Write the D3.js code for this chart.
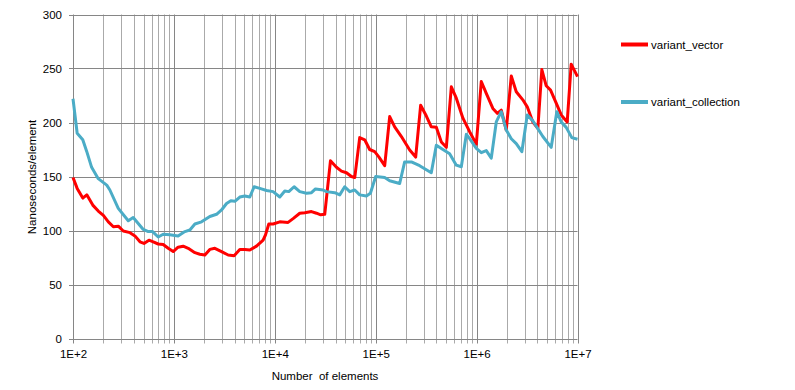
<!DOCTYPE html>
<html>
<head>
<meta charset="utf-8">
<script src="https://cdn.jsdelivr.net/npm/d3@7"></script>
<style>
  body { margin: 0; background: #fff; }
  svg { display: block; font-family: 'Liberation Sans', Arial, sans-serif; }
</style>
</head>
<body>
<svg width="795" height="390"></svg>
<script>
// values (element counts / nanoseconds per element)
const vectorN = [100, 110, 125, 137, 157, 178, 200, 224, 251, 281, 315, 367, 411, 461, 505, 566, 624, 699, 783, 878,
  984, 1100, 1236, 1386, 1614, 1808, 2028, 2270, 2547, 2966, 3449, 3953, 4500, 5045, 5655, 6590, 7660, 8090, 8720, 9620,
  11210, 13540, 15180, 17680, 19820, 23090, 25880, 28530, 31260, 35610, 40830, 45750, 51300, 57460, 62000, 69400, 77800, 87100, 97750, 107800,
  122800, 137600, 154200, 179700, 217300, 249000, 279000, 317700, 355600, 398800, 447200, 501200, 561700, 629500, 731800, 853000, 994000, 1113000, 1247000, 1449000,
  1603000, 1756000, 1968000, 2206000, 2472000, 2871000, 3177000, 3609000, 4046000, 4431000, 4898000, 5408000, 6152000, 6896000, 7907000, 8661000, 10000000];
const vectorNs = [149, 139, 130, 133, 123.5, 118, 114, 108, 103.5, 104, 99.5, 98, 95, 89.5, 88, 91, 89.5, 87.5, 87, 83.5,
  80.5, 84.5, 85.5, 83.5, 79.5, 78, 77.3, 82.5, 83.5, 80.5, 77.3, 76.7, 82.5, 82.5, 82, 85.5, 91, 96, 106, 106,
  108, 107.5, 111, 116, 116.5, 117.5, 116, 114.5, 115, 164.5, 158.5, 155, 153.5, 150, 149, 186, 184, 175, 173, 168,
  160, 205.5, 196, 187, 174.5, 168, 216, 206, 196, 195.5, 182, 177, 233, 222.5, 204, 191.5, 180, 238, 227, 213,
  208.5, 211.5, 193, 243, 228.5, 221, 214.5, 200.5, 194.5, 249, 234, 230, 218, 207, 200.5, 254, 242.5];

const collectionN = [100, 110, 125, 137, 153, 178, 216, 232, 281, 353, 395, 497, 557, 615, 699, 783, 912, 1100, 1285, 1440,
  1614, 1880, 2270, 2648, 2966, 3325, 3665, 4018, 4500, 5045, 5655, 6240, 7105, 8280, 9620, 11210, 12560, 13760, 15530, 17680,
  20600, 23090, 25300, 30100, 32500, 39300, 44000, 49300, 55300, 62000, 69400, 80900, 88600, 100000, 122800, 137600, 172800, 193700, 225700, 272700,
  355600, 398800, 463700, 540500, 629500, 705500, 790700, 853000, 994000, 1113000, 1247000, 1398000, 1567000, 1756000, 1968000, 2206000, 2472000, 2809000, 3177000, 3609000,
  4533000, 5490000, 6238000, 6896000, 7728000, 8781000, 10000000];
const collectionNs = [222, 190, 184, 173, 158.5, 148, 142, 137.5, 120.5, 109, 112, 101, 99, 99, 94, 96.5, 96, 95, 99, 100.5,
  106, 108, 113, 115, 119, 125, 127.5, 127, 131, 132, 131, 140.5, 139, 137, 136, 131, 136.5, 136, 140.5, 136,
  134.5, 135, 138.5, 137.5, 136, 135, 133, 140.5, 136, 137.5, 133, 132, 134.5, 150, 149, 146, 143.5, 163.5, 163.5, 160,
  153.5, 179, 175, 171, 160.5, 159, 189, 185, 176, 172, 174, 167, 200.5, 210, 193, 185, 180.5, 173, 207, 201.5,
  187, 177, 210, 200.5, 195.5, 186, 184.5];

const series = [
  { name: 'variant_vector', n: vectorN, v: vectorNs, color: '#ff0000' },
  { name: 'variant_collection', n: collectionN, v: collectionNs, color: '#4bacc6' },
];
const yTicks = [0, 50, 100, 150, 200, 250, 300];

const svg = d3.select('svg');
const margin = { left: 73, right: 577.5, top: 14.5, bottom: 338.5 };

const x = d3.scaleLog().domain([100, 1e7]).range([margin.left, margin.right]);
const y = d3.scaleLinear().domain([0, 300]).range([margin.bottom, margin.top]);

const isMajor = d => Math.abs(Math.log10(d) - Math.round(Math.log10(d))) < 1e-9;

// vertical grid (minor lighter, decades darker), ticks run a bit below the axis
svg.append('g')
  .selectAll('line')
  .data(x.ticks())
  .join('line')
    .attr('x1', d => Math.round(x(d)) + 0.5)
    .attr('x2', d => Math.round(x(d)) + 0.5)
    .attr('y1', margin.top)
    .attr('y2', margin.bottom + 5)
    .attr('stroke', d => (isMajor(d) ? '#868686' : '#aaaaaa'))
    .attr('stroke-width', 1);

// horizontal grid
svg.append('g')
  .selectAll('line')
  .data(yTicks)
  .join('line')
    .attr('x1', margin.left - 4)
    .attr('x2', margin.right)
    .attr('y1', d => Math.round(y(d)) + 0.5)
    .attr('y2', d => Math.round(y(d)) + 0.5)
    .attr('stroke', '#868686');

// y labels
svg.append('g')
  .attr('transform', `translate(${margin.left - 11}, 0)`)
  .call(d3.axisLeft(y).tickValues(yTicks).tickSize(0).tickPadding(0))
  .call(g => g.select('.domain').remove())
  .selectAll('text')
    .style('font-size', '11.5px')
    .attr('fill', '#000');

// x labels
svg.append('g')
  .attr('transform', `translate(0, ${margin.bottom + 11})`)
  .call(d3.axisBottom(x)
    .tickValues(x.ticks().filter(isMajor))
    .tickFormat(d => `1E+${Math.round(Math.log10(d))}`)
    .tickSize(0).tickPadding(0))
  .call(g => g.select('.domain').remove())
  .selectAll('text')
    .style('font-size', '11.5px')
    .attr('fill', '#000');

// axis titles
svg.append('text')
  .attr('x', 325)
  .attr('y', 380)
  .attr('text-anchor', 'middle')
  .style('font-size', '11.5px')
  .style('white-space', 'pre')
  .text('Number  of elements');

svg.append('text')
  .attr('transform', 'translate(36, 177) rotate(-90)')
  .attr('text-anchor', 'middle')
  .style('font-size', '11.5px')
  .text('Nanoseconds/element');

// series lines
const line = d3.line()
  .x(d => x(d[0]))
  .y(d => y(d[1]));

series.forEach((s) => {
  svg.append('path')
    .datum(d3.zip(s.n, s.v))
    .attr('d', line)
    .attr('fill', 'none')
    .attr('stroke', s.color)
    .attr('stroke-width', 3)
    .attr('stroke-linejoin', 'round');
});

// legend
const legend = svg.append('g')
  .selectAll('g')
  .data(series)
  .join('g')
    .attr('transform', (d, i) => `translate(621, ${44.5 + i * 57.5})`);

legend.append('line')
  .attr('x1', 0)
  .attr('x2', 27)
  .attr('stroke', d => d.color)
  .attr('stroke-width', 4);

legend.append('text')
  .attr('x', 30)
  .attr('dy', '0.35em')
  .style('font-size', '11.5px')
  .text(d => d.name);
</script>
</body>
</html>
